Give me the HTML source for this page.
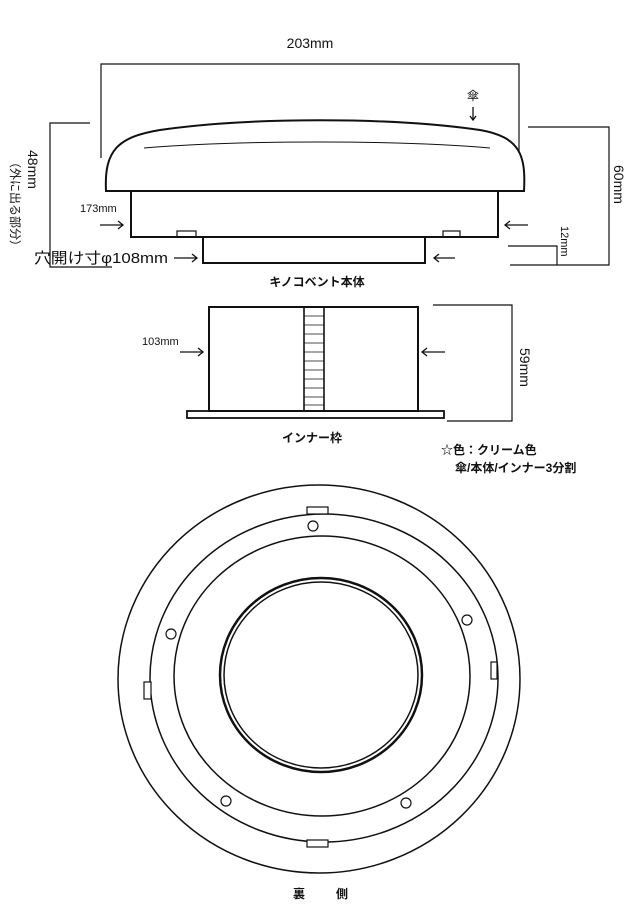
<!DOCTYPE html>
<html><head><meta charset="utf-8"><style>
body{margin:0;background:#fff}
svg{display:block}
text{font-family:"Liberation Sans","Noto Sans CJK JP",sans-serif;fill:#111}
</style></head><body>
<svg width="640" height="920" viewBox="0 0 640 920" xmlns="http://www.w3.org/2000/svg">
<g stroke="#111" fill="none" stroke-width="1.2">
<polyline points="101,158 101,64 519,64 519,153"/>
<path d="M106,191 C104,150 118,137 160,130 C250,117 390,117 480,130 C520,137 526,155 524,191 Z" stroke-width="2"/>
<path d="M144,148 C240,140 400,140 490,148" stroke-width="1"/>
<rect x="131" y="191" width="367" height="46" stroke-width="2"/>
<rect x="203" y="237" width="222" height="26" stroke-width="2"/>
<rect x="177" y="231" width="19" height="6"/>
<rect x="443" y="231" width="17" height="6"/>
<polyline points="90,123 50,123 50,267 112,267"/>
<polyline points="528,127 609,127 609,265 510,265"/>
<polyline points="508,246 557,246 557,265"/>
<g stroke-width="1.3">
<line x1="100" y1="225" x2="123" y2="225"/><polyline points="118,221 123,225 118,229"/>
<line x1="505" y1="225" x2="528" y2="225"/><polyline points="510,221 505,225 510,229"/>
<line x1="174" y1="258" x2="197" y2="258"/><polyline points="192,254 197,258 192,262"/>
<line x1="434" y1="258" x2="455" y2="258"/><polyline points="439,254 434,258 439,262"/>
<line x1="473" y1="107" x2="473" y2="120"/><polyline points="470,116 473,120 476,116"/>
<line x1="180" y1="352" x2="203" y2="352"/><polyline points="198,348 203,352 198,356"/>
<line x1="422" y1="352" x2="445" y2="352"/><polyline points="427,348 422,352 427,356"/>
</g>
<rect x="209" y="307" width="209" height="104" stroke-width="2"/>
<rect x="304" y="307" width="20" height="104" stroke-width="1.6"/>
<g stroke-width="0.8">
<line x1="304" y1="316" x2="324" y2="316"/><line x1="304" y1="325" x2="324" y2="325"/><line x1="304" y1="334" x2="324" y2="334"/><line x1="304" y1="343" x2="324" y2="343"/><line x1="304" y1="352" x2="324" y2="352"/><line x1="304" y1="361" x2="324" y2="361"/><line x1="304" y1="370" x2="324" y2="370"/><line x1="304" y1="379" x2="324" y2="379"/><line x1="304" y1="388" x2="324" y2="388"/><line x1="304" y1="397" x2="324" y2="397"/><line x1="304" y1="405" x2="324" y2="405"/>
</g>
<rect x="187" y="411" width="257" height="7" stroke-width="1.8"/>
<polyline points="433,305 512,305 512,421 447,421"/>
<g stroke-width="1.5">
<ellipse cx="319" cy="679" rx="201" ry="194"/>
<ellipse cx="324" cy="678" rx="174" ry="164"/>
<ellipse cx="322" cy="676" rx="148" ry="140"/>
<ellipse cx="321" cy="675" rx="101" ry="97" stroke-width="2.5"/>
<ellipse cx="321" cy="675" rx="97" ry="93"/>
</g>
<g fill="#fff" stroke-width="1.2">
<rect x="307" y="507" width="21" height="7"/>
<rect x="307" y="840" width="21" height="7"/>
<rect x="144" y="682" width="7" height="17"/>
<rect x="491" y="662" width="6" height="17"/>
<circle cx="313" cy="526" r="5"/><circle cx="171" cy="634" r="5"/><circle cx="467" cy="620" r="5"/><circle cx="226" cy="801" r="5"/><circle cx="406" cy="803" r="5"/>
</g>
</g>
<text x="310" y="48" font-size="14" text-anchor="middle">203mm</text>
<text x="467" y="100" font-size="12">傘</text>
<text x="80" y="212" font-size="11">173mm</text>
<text x="34" y="263" font-size="15" textLength="134" lengthAdjust="spacingAndGlyphs">穴開け寸φ108mm</text>
<text x="317" y="286" font-size="12" font-weight="bold" text-anchor="middle">キノコベント本体</text>
<text transform="translate(28,150) rotate(90)" font-size="14">48mm</text>
<text transform="translate(11,156) rotate(90)" font-size="12">（外に出る部分）</text>
<text transform="translate(614,165) rotate(90)" font-size="14">60mm</text>
<text transform="translate(561,226) rotate(90)" font-size="11">12mm</text>
<text x="142" y="345" font-size="11">103mm</text>
<text transform="translate(520,348) rotate(90)" font-size="14">59mm</text>
<text x="312" y="442" font-size="12" font-weight="bold" text-anchor="middle">インナー枠</text>
<text x="441" y="454" font-size="12" font-weight="bold">☆色：クリーム色</text>
<text x="455" y="472" font-size="12" font-weight="bold">傘/本体/インナー3分割</text>
<text x="293" y="898" font-size="12" font-weight="bold">裏</text>
<text x="336" y="898" font-size="12" font-weight="bold">側</text>
</svg>
</body></html>
